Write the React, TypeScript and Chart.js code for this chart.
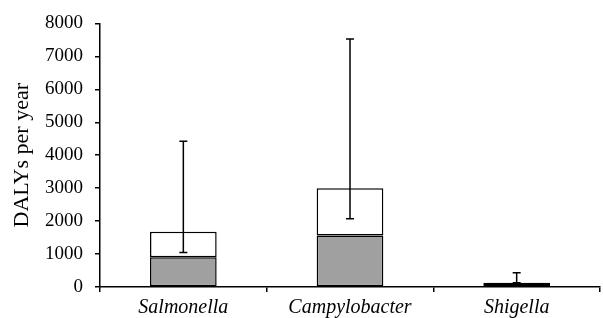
import React, { useEffect, useRef } from "react";
import { Chart, registerables } from "chart.js";

Chart.register(...registerables);

const categories = ["Salmonella", "Campylobacter", "Shigella"];
const grayValues = [900, 1560, 60];
const whiteValues = [780, 1440, 70];
const errLow = [1050, 2070, 130];
const errHigh = [4420, 7530, 430];
const yTicks = [0, 1000, 2000, 3000, 4000, 5000, 6000, 7000, 8000];

const errorBarPlugin = {
  id: "errorBars",
  afterDatasetsDraw(chart: any) {
    const ctx = chart.ctx;
    const meta = chart.getDatasetMeta(1);
    const y = chart.scales.y;
    ctx.save();
    ctx.strokeStyle = "#000";
    ctx.lineWidth = 1.5;
    meta.data.forEach((bar: any, i: number) => {
      const x = bar.x;
      const yl = y.getPixelForValue(errLow[i]);
      const yh = y.getPixelForValue(errHigh[i]);
      ctx.beginPath();
      ctx.moveTo(x, yl);
      ctx.lineTo(x, yh);
      ctx.moveTo(x - 4, yl);
      ctx.lineTo(x + 4, yl);
      ctx.moveTo(x - 4, yh);
      ctx.lineTo(x + 4, yh);
      ctx.stroke();
    });
    ctx.restore();
  },
};

export default function App() {
  const ref = useRef<HTMLCanvasElement>(null);
  useEffect(() => {
    document.body.style.margin = "0";
    const chart = new Chart(ref.current!, {
      type: "bar",
      data: {
        labels: categories,
        datasets: [
          {
            data: grayValues,
            backgroundColor: "#a0a0a0",
            borderColor: "#000",
            borderWidth: 1.5,
            borderSkipped: false,
            barPercentage: 0.4,
            categoryPercentage: 1,
          },
          {
            data: whiteValues,
            backgroundColor: "#ffffff",
            borderColor: "#000",
            borderWidth: 1.5,
            borderSkipped: false,
            barPercentage: 0.4,
            categoryPercentage: 1,
          },
        ],
      },
      options: {
        responsive: false,
        animation: false,
        layout: { padding: { top: 17, right: 3, left: 0, bottom: 0 } },
        plugins: { legend: { display: false }, tooltip: { enabled: false } },
        scales: {
          x: {
            stacked: true,
            offset: true,
            afterFit: (s: any) => {
              s.height = 31;
            },
            border: { color: "#000", width: 1.5 },
            grid: {
              offset: true,
              drawOnChartArea: false,
              drawTicks: true,
              tickLength: 5,
              color: "#000",
              lineWidth: 1.5,
            },
            ticks: {
              color: "#000",
              padding: 4,
              font: { family: "Liberation Serif", size: 20, style: "italic" },
            },
          },
          y: {
            stacked: true,
            min: 0,
            max: 8000,
            afterBuildTicks: (s: any) => {
              s.ticks = yTicks.map((v) => ({ value: v }));
            },
            afterFit: (s: any) => {
              s.width = 100;
            },
            border: { color: "#000", width: 1.5 },
            grid: {
              drawOnChartArea: false,
              drawTicks: true,
              tickLength: 5,
              color: "#000",
              lineWidth: 1.5,
            },
            ticks: {
              color: "#000",
              padding: 12,
              callback: (v: any) => String(v),
              font: { family: "Liberation Serif", size: 19 },
            },
            title: {
              display: true,
              text: "DALYs per year",
              color: "#000",
              padding: { top: 9, bottom: 0 },
              font: { family: "Liberation Serif", size: 22 },
            },
          },
        },
      },
      plugins: [errorBarPlugin],
    });
    return () => chart.destroy();
  }, []);
  return <canvas ref={ref} width={603} height={318} style={{ display: "block" }} />;
}
